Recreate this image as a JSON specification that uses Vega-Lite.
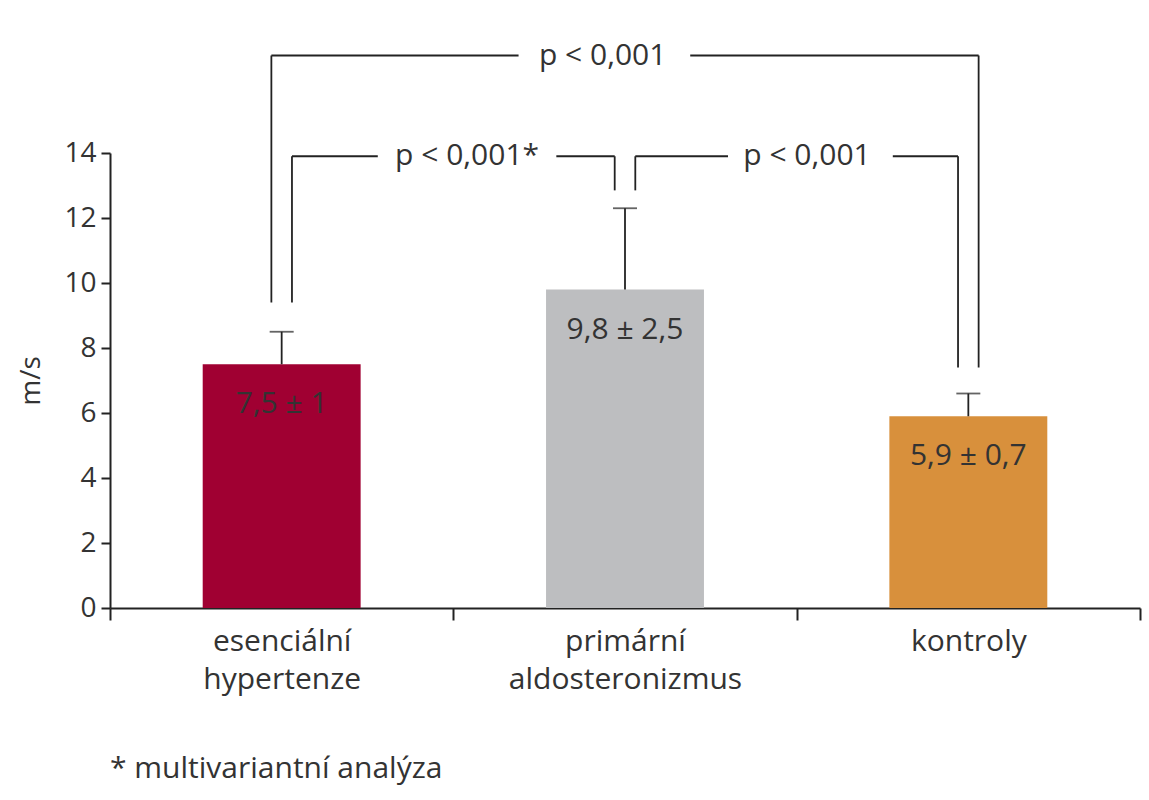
{
  "$schema": "https://vega.github.io/schema/vega-lite/v6.json",
  "width": 1030,
  "height": 455,
  "padding": {"left": 17, "top": 40, "right": 5, "bottom": 5},
  "background": "white",
  "config": {
    "view": {"stroke": null},
    "font": "Open Sans",
    "axis": {"grid": false, "domainColor": "#222", "tickColor": "#222", "labelColor": "#333", "titleColor": "#333", "titleFontWeight": "normal"}
  },
  "title": {
    "text": "* multivariantní analýza",
    "orient": "bottom",
    "anchor": "start",
    "frame": "group",
    "fontSize": 30,
    "fontWeight": "normal",
    "color": "#333",
    "offset": 60
  },
  "datasets": {
    "bars": [
      {"group": "esenciální hypertenze", "value": 7.5, "sd": 1, "top": 8.5, "label": "7,5 ± 1"},
      {"group": "primární aldosteronizmus", "value": 9.8, "sd": 2.5, "top": 12.3, "label": "9,8 ± 2,5"},
      {"group": "kontroly", "value": 5.9, "sd": 0.7, "top": 6.6, "label": "5,9 ± 0,7"}
    ],
    "brackets": [
      {"x1": 0.47, "x2": 0.47, "y1": 9.4, "y2": 17},
      {"x1": 2.53, "x2": 2.53, "y1": 7.4, "y2": 17},
      {"x1": 0.47, "x2": 1.19, "y1": 17, "y2": 17},
      {"x1": 1.69, "x2": 2.53, "y1": 17, "y2": 17},
      {"x1": 0.53, "x2": 0.53, "y1": 9.4, "y2": 13.9},
      {"x1": 1.47, "x2": 1.47, "y1": 12.85, "y2": 13.9},
      {"x1": 0.53, "x2": 0.78, "y1": 13.9, "y2": 13.9},
      {"x1": 1.3, "x2": 1.47, "y1": 13.9, "y2": 13.9},
      {"x1": 1.53, "x2": 1.53, "y1": 12.85, "y2": 13.9},
      {"x1": 2.47, "x2": 2.47, "y1": 7.4, "y2": 13.9},
      {"x1": 1.53, "x2": 1.8, "y1": 13.9, "y2": 13.9},
      {"x1": 2.28, "x2": 2.47, "y1": 13.9, "y2": 13.9}
    ],
    "pvalues": [
      {"x": 1.435, "y": 17, "text": "p < 0,001"},
      {"x": 1.04, "y": 13.9, "text": "p < 0,001*"},
      {"x": 2.03, "y": 13.9, "text": "p < 0,001"}
    ]
  },
  "resolve": {"scale": {"x": "independent"}, "axis": {"x": "independent"}},
  "layer": [
    {
      "data": {"name": "bars"},
      "encoding": {
        "x": {
          "field": "group",
          "type": "nominal",
          "sort": null,
          "scale": {"paddingInner": 0, "paddingOuter": 0},
          "axis": {
            "title": null,
            "labelAngle": 0,
            "labelFontSize": 30,
            "labelLineHeight": 38,
            "labelPadding": 6,
            "labelLimit": 0,
            "labelExpr": "split(datum.label, ' ')",
            "tickBand": "extent",
            "tickSize": 12,
            "tickWidth": 2,
            "domainWidth": 2
          }
        },
        "y": {
          "field": "value",
          "type": "quantitative",
          "scale": {"domain": [0, 14], "nice": false},
          "axis": {
            "title": "m/s",
            "values": [0, 2, 4, 6, 8, 10, 12, 14],
            "titleFontSize": 28,
            "titlePadding": 18,
            "labelFontSize": 28,
            "labelPadding": 5,
            "tickSize": 9,
            "tickWidth": 2,
            "domainWidth": 2
          }
        }
      },
      "layer": [
        {
          "mark": {"type": "bar", "width": {"band": 0.46}},
          "encoding": {
            "color": {
              "field": "group",
              "type": "nominal",
              "scale": {
                "domain": ["esenciální hypertenze", "primární aldosteronizmus", "kontroly"],
                "range": ["#a00032", "#bdbec0", "#d8903c"]
              },
              "legend": null
            }
          }
        },
        {
          "mark": {"type": "rule", "color": "#222", "strokeWidth": 1.8},
          "encoding": {"y2": {"field": "top"}}
        },
        {
          "mark": {"type": "tick", "color": "#222", "size": 24, "thickness": 1.8},
          "encoding": {"y": {"field": "top", "type": "quantitative"}}
        },
        {
          "mark": {"type": "text", "fontSize": 30, "color": "#333", "baseline": "middle", "dy": 40},
          "encoding": {"text": {"field": "label"}}
        }
      ]
    },
    {
      "data": {"name": "brackets"},
      "mark": {"type": "rule", "color": "#222", "strokeWidth": 1.8},
      "encoding": {
        "x": {"field": "x1", "type": "quantitative", "scale": {"domain": [0, 3], "nice": false, "zero": false}, "axis": null},
        "x2": {"field": "x2"},
        "y": {"field": "y1", "type": "quantitative"},
        "y2": {"field": "y2"}
      }
    },
    {
      "data": {"name": "pvalues"},
      "mark": {"type": "text", "fontSize": 30, "color": "#333", "baseline": "middle"},
      "encoding": {
        "x": {"field": "x", "type": "quantitative", "scale": {"domain": [0, 3], "nice": false, "zero": false}, "axis": null},
        "y": {"field": "y", "type": "quantitative"},
        "text": {"field": "text"}
      }
    }
  ]
}
